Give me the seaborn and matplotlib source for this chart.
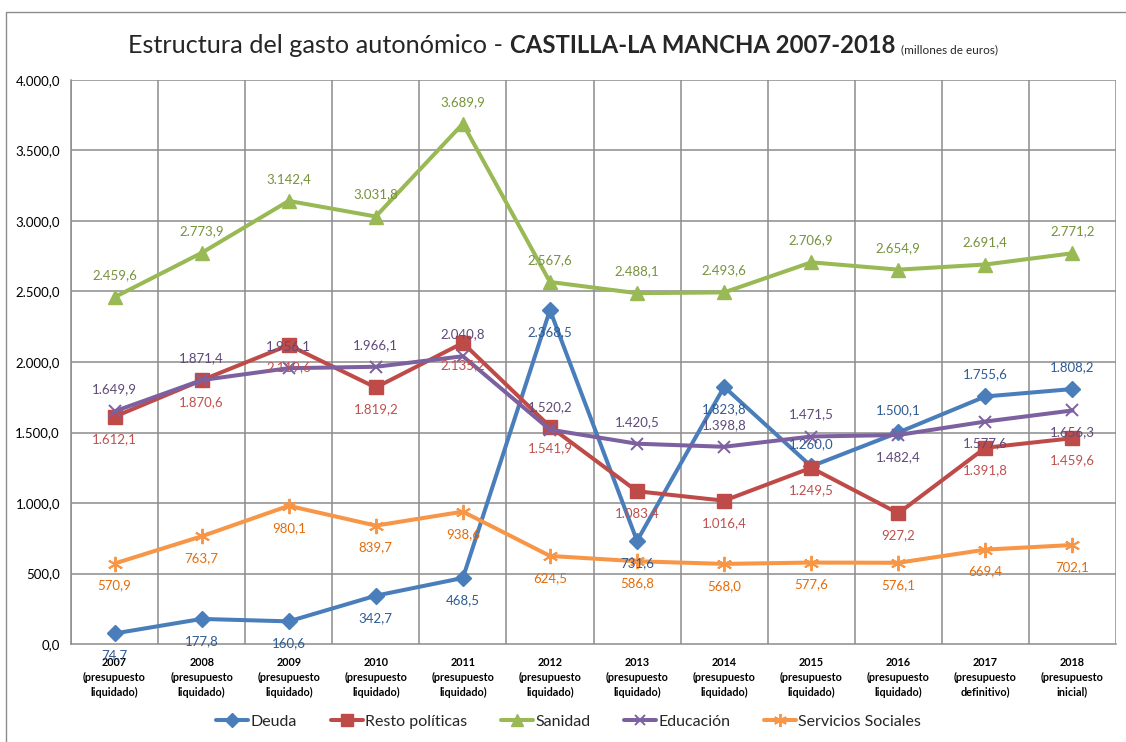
import numpy as np
import pandas as pd
import matplotlib
matplotlib.use("Agg")
import matplotlib.pyplot as plt
import seaborn as sns
from matplotlib.lines import Line2D
from matplotlib.patches import Rectangle
from matplotlib.ticker import FuncFormatter, MultipleLocator

years = ["2007", "2008", "2009", "2010", "2011", "2012",
         "2013", "2014", "2015", "2016", "2017", "2018"]
budget_type = ["presupuesto\nliquidado"] * 10 + ["presupuesto\ndefinitivo", "presupuesto\ninicial"]

deuda = [74.7, 177.8, 160.6, 342.7, 468.5, 2368.5, 731.6, 1823.8, 1260.0, 1500.1, 1755.6, 1808.2]
resto = [1612.1, 1870.6, 2119.6, 1819.2, 2135.2, 1541.9, 1083.4, 1016.4, 1249.5, 927.2, 1391.8, 1459.6]
sanidad = [2459.6, 2773.9, 3142.4, 3031.8, 3689.9, 2567.6, 2488.1, 2493.6, 2706.9, 2654.9, 2691.4, 2771.2]
educacion = [1649.9, 1871.4, 1956.1, 1966.1, 2040.8, 1520.2, 1420.5, 1398.8, 1471.5, 1482.4, 1577.6, 1656.3]
servicios = [570.9, 763.7, 980.1, 839.7, 938.6, 624.5, 586.8, 568.0, 577.6, 576.1, 669.4, 702.1]

# label placement per point: +1 above the marker, -1 below
deuda_pos = [-1, -1, -1, -1, -1, -1, -1, -1, 1, 1, 1, 1]
resto_pos = [-1] * 12
sanidad_pos = [1] * 12
educacion_pos = [1, 1, 1, 1, 1, 1, 1, 1, 1, -1, -1, -1]
servicios_pos = [-1] * 12

series = [
    ("Deuda", deuda, deuda_pos, "#4A7EBB", "#2F5B93", "D", 8, 1.0),
    ("Resto políticas", resto, resto_pos, "#BE4B48", "#C0504D", "s", 9.5, 1.0),
    ("Sanidad", sanidad, sanidad_pos, "#98B954", "#76933C", "^", 10.5, 1.0),
    ("Educación", educacion, educacion_pos, "#7D60A0", "#5F497A", "x", 9, 1.4),
    ("Servicios Sociales", servicios, servicios_pos, "#F79646", "#E46C0A", (6, 2, 0), 11, 1.4),
]

FONT = ["Lato", "DejaVu Sans"]
sns.set_theme(style="white")
plt.rcParams["font.family"] = FONT

W, H = 1126, 742
fig = plt.figure(figsize=(W / 100, H / 100), dpi=100)
fig.patch.set_facecolor("white")
ax = fig.add_axes([71 / W, 1 - 644 / H, (1116 - 71) / W, (644 - 80) / H])

x = np.arange(len(years))
grid_c = "#8C8C8C"

# category boundaries as vertical grid, value grid every 500
for b in np.arange(-0.5, len(years) + 0.5, 1.0):
    ax.axvline(b, color=grid_c, lw=1.1, zorder=0)
for v in np.arange(500, 4001, 500):
    ax.axhline(v, color=grid_c, lw=1.1, zorder=0)

def fmt_es(v, decimals=1):
    s = f"{v:,.{decimals}f}"
    return s.replace(",", "X").replace(".", ",").replace("X", ".")

handles = []
for name, vals, pos, col, lab_col, mk, ms, mew in series:
    df = pd.DataFrame({"x": x, "y": vals})
    sns.lineplot(data=df, x="x", y="y", ax=ax, color=col, lw=2.9,
                 marker=mk, markersize=ms, markeredgecolor=col,
                 markerfacecolor=col, markeredgewidth=mew, zorder=3)
    for xi, yi, p in zip(x, vals, pos):
        ax.annotate(fmt_es(yi), (xi, yi), xytext=(0, 22 * p),
                    textcoords="offset pixels", ha="center", va="center",
                    fontsize=9.5, color=lab_col, zorder=4)
    handles.append(Line2D([0], [0], color=col, lw=2.9, marker=mk,
                          markersize=ms * 0.85, markeredgecolor=col,
                          markerfacecolor=col, markeredgewidth=mew, label=name))

ax.set_xlim(-0.5, len(years) - 0.5)
ax.set_ylim(0, 4000)
ax.yaxis.set_major_locator(MultipleLocator(500))
ax.yaxis.set_major_formatter(FuncFormatter(lambda v, _: fmt_es(v)))
ax.set_xticks(x)
ax.set_xticklabels([f"{y}\n({b})" for y, b in zip(years, budget_type)],
                   fontsize=7.8, fontweight="bold", linespacing=1.45)
ax.tick_params(axis="x", length=0, pad=9, colors="black")
ax.tick_params(axis="y", length=0, pad=8, labelsize=9.5, colors="black")
ax.set_xlabel("")
ax.set_ylabel("")
for s in ["top", "right"]:
    ax.spines[s].set_visible(False)
for s in ["left", "bottom"]:
    ax.spines[s].set_color(grid_c)
    ax.spines[s].set_linewidth(1.1)
if ax.get_legend():
    ax.get_legend().remove()

fig.legend(handles=handles, loc="center", bbox_to_anchor=(0.505, 1 - 722 / H),
           ncol=5, frameon=False, fontsize=11.5, handlelength=2.0,
           handletextpad=0.15, columnspacing=2.1)

# title assembled from three differently styled pieces
pieces = [
    ("Estructura del gasto autonómico - ", "normal", 18.2),
    ("CASTILLA-LA MANCHA 2007-2018", "bold", 17.2),
    ("  (millones de euros)", "normal", 8.5),
]
renderer = fig.canvas.get_renderer()
texts = []
for txt, wt, fs in pieces:
    t = fig.text(0, 1 - 45 / H, txt, fontsize=fs, fontweight=wt,
                 va="baseline", ha="left")
    texts.append(t)
widths = [t.get_window_extent(renderer).width for t in texts]
start = 128
for t, w in zip(texts, widths):
    t.set_x(start / W)
    t.set_y(1 - 53 / H)
    start += w

# outer chart frame
fig.patches.append(Rectangle((6 / W, -0.05), 1.2, (1 - 12 / H) + 0.05,
                             transform=fig.transFigure, fill=False,
                             edgecolor="#8C8C8C", lw=1.0))

fig.savefig("out.png", dpi=100)
